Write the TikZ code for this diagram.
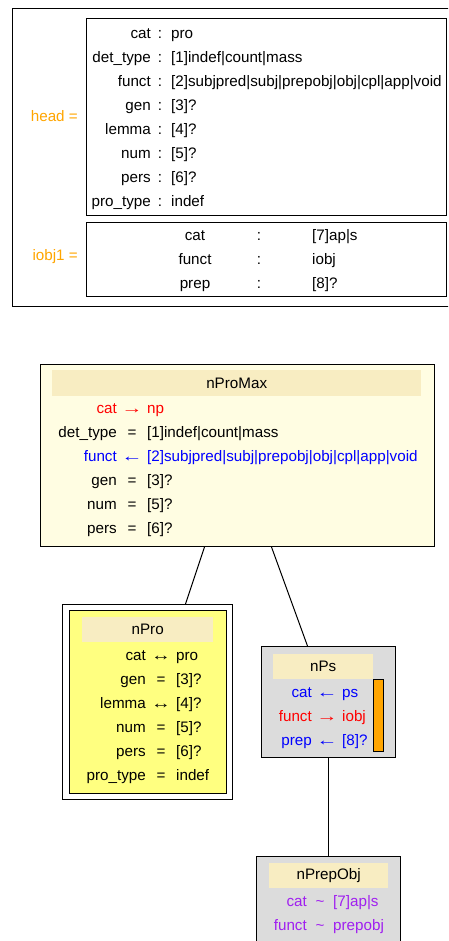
\documentclass[tikz,border=0pt]{standalone}
\usepackage{fontspec}
\setmainfont{Liberation Sans}
\usetikzlibrary{positioning}

\definecolor{fsorange}{HTML}{FFA500}
\definecolor{fspurple}{HTML}{A020F0}
\definecolor{fsred}{HTML}{FF0000}
\definecolor{fsblue}{HTML}{0000FF}
\definecolor{creamfill}{HTML}{FFFDE2}
\definecolor{headfill}{HTML}{F8EDC2}
\definecolor{profill}{HTML}{FFFF80}
\definecolor{greyfill}{HTML}{DCDCDC}

\newcommand\toR{\scalebox{1.4}[1]{→}}
\newcommand\toL{\scalebox{1.4}[1]{←}}
\newcommand\toLR{\scalebox{1.3}[1]{↔}}

\begin{document}
\begin{tikzpicture}[
    x=1pt, y=-1pt,
    every node/.style={font=\fontsize{15.2}{24}\selectfont, inner sep=0pt},
    frame/.style={draw, line width=1pt, anchor=north west},
    band/.style={fill=headfill, anchor=north west},
    labels/.style={anchor=base east, align=right},
    ops/.style={anchor=base, align=center},
    vals/.style={anchor=base west, align=left},
    edge/.style={line width=1pt}
]
\useasboundingbox (0,0) rectangle (448,941);
\clip (0,0) rectangle (448,941);

\node[frame, minimum width=460pt, minimum height=298pt] (avm) at (12,8) {};
\node[frame, minimum width=360pt, minimum height=197pt] (headbox) at (86,18) {};
\node[frame, minimum width=360pt, minimum height=74pt] (iobjbox) at (86,222) {};
\node[anchor=east, text=fsorange] (headlbl) at (78,116) {head =};
\node[anchor=east, text=fsorange] (iobjlbl) at (78,257) {iobj1 =};

\node[labels] (headL) at (151,207) {cat\\det\_type\\funct\\gen\\lemma\\num\\pers\\pro\_type};
\node[ops] (headO) at (160,207) {:\\:\\:\\:\\:\\:\\:\\:};
\node[vals] (headV) at (171,207) {pro\\{[1]}indef|count|mass\\{[2]}subjpred|subj|prepobj|obj|cpl|app|void\\{[3]}?\\{[4]}?\\{[5]}?\\{[6]}?\\indef};

\node[ops] (iobjL) at (195,288) {cat\\funct\\prep};
\node[ops] (iobjO) at (259,288) {:\\:\\:};
\node[vals] (iobjV) at (312,288) {{[7]}ap|s\\iobj\\{[8]}?};

\node[frame, fill=creamfill, minimum width=394pt, minimum height=182pt] (promax) at (40,364) {};
\node[band, minimum width=369pt, minimum height=26pt] (promaxhead) at (52,370) {nProMax};
\node[labels] (promaxL) at (117,533) {\color{fsred}cat\\det\_type\\\color{fsblue}funct\\gen\\num\\pers};
\node[ops] (promaxO) at (132,533) {\color{fsred}\toR\\=\\\color{fsblue}\toL\\=\\=\\=};
\node[vals] (promaxV) at (147,533) {\color{fsred}np\\{[1]}indef|count|mass\\\color{fsblue}{[2]}subjpred|subj|prepobj|obj|cpl|app|void\\{[3]}?\\{[5]}?\\{[6]}?};

\node[frame, minimum width=170pt, minimum height=195pt] (pro) at (62,604) {};
\node[frame, fill=profill, minimum width=157pt, minimum height=183pt] (proinner) at (69,610) {};
\node[band, minimum width=131pt, minimum height=25pt] (prohead) at (82,617) {nPro};
\node[labels] (proL) at (146,780) {cat\\gen\\lemma\\num\\pers\\pro\_type};
\node[ops] (proO) at (161,780) {\toLR\\=\\\toLR\\=\\=\\=};
\node[vals] (proV) at (176,780) {pro\\{[3]}?\\{[4]}?\\{[5]}?\\{[6]}?\\indef};

\node[frame, fill=greyfill, minimum width=134pt, minimum height=111pt] (ps) at (261,646) {};
\node[band, minimum width=100pt, minimum height=25pt] (pshead) at (273,654) {nPs};
\node[frame, fill=fsorange, minimum width=10pt, minimum height=72pt] (psbar) at (373,679) {};
\node[labels] (psL) at (312,745) {\color{fsblue}cat\\\color{fsred}funct\\\color{fsblue}prep};
\node[ops] (psO) at (327,745) {\color{fsblue}\toL\\\color{fsred}\toR\\\color{fsblue}\toL};
\node[vals] (psV) at (342,745) {\color{fsblue}ps\\\color{fsred}iobj\\\color{fsblue}{[8]}?};

\node[frame, fill=greyfill, minimum width=144pt, minimum height=110pt] (prepobj) at (256,856) {};
\node[band, minimum width=119pt, minimum height=25pt] (prepobjhead) at (269,863) {nPrepObj};
\node[labels, text=fspurple] (prepobjL) at (307,930) {cat\\funct};
\node[ops, text=fspurple] (prepobjO) at (320,930) {\textasciitilde\\\textasciitilde};
\node[vals, text=fspurple] (prepobjV) at (333,930) {{[7]}ap|s\\prepobj};

\draw[edge] ([xshift=-33pt]promax.south) -- ([xshift=38pt]pro.north);
\draw[edge] ([xshift=34pt]promax.south) -- ([xshift=-21pt]ps.north);
\draw[edge] (ps.south) -- (prepobj.north);
\end{tikzpicture}
\end{document}
